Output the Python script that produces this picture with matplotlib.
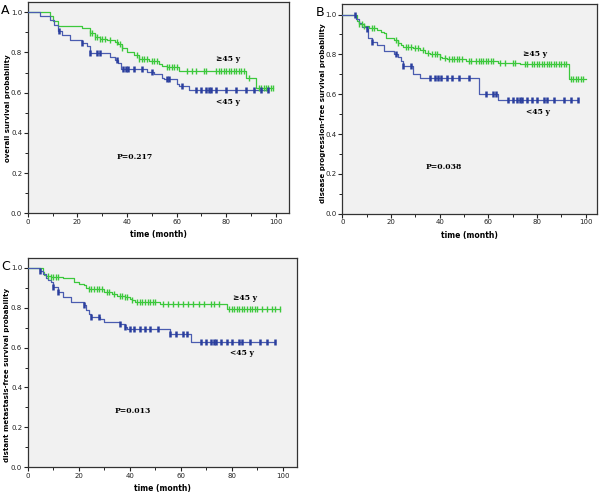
import numpy as np
import matplotlib
matplotlib.use("Agg")
import matplotlib.pyplot as plt
from matplotlib.ticker import MultipleLocator

# ---------------- data ----------------
# Panel A: overall survival
a_old_t = [0, 9, 10.3, 12, 22, 25, 27, 29, 32, 35, 36.5, 38, 40, 43, 45, 49, 53, 54, 56, 61, 88, 92]
a_old_s = [1.0, 0.98, 0.955, 0.934, 0.92, 0.898, 0.876, 0.868, 0.86, 0.85, 0.84, 0.82, 0.80, 0.785, 0.769, 0.757, 0.744, 0.735, 0.727, 0.708, 0.673, 0.622]
a_old_c = [25, 26, 27, 28, 29, 30, 31, 33, 36, 37, 38, 44, 45, 46, 47, 48, 50, 51, 52, 56, 57, 58, 59, 60,
           64, 66, 68, 71, 72, 76, 77, 78, 79, 80, 81, 82, 83, 84, 85, 86, 87, 89, 93, 94, 95, 96, 97, 98, 99]
a_yng_t = [0, 5, 9, 10.5, 12, 14, 17, 22, 24, 25, 33, 35, 36.5, 37.5, 48, 51, 54, 55, 60, 61, 65]
a_yng_s = [1.0, 0.98, 0.96, 0.935, 0.909, 0.885, 0.862, 0.845, 0.83, 0.797, 0.777, 0.765, 0.75, 0.72, 0.702, 0.691, 0.674, 0.666, 0.645, 0.632, 0.612]
a_yng_c = [12.5, 22, 25, 28, 29, 36, 38.5, 39.5, 40.5, 43, 46, 50, 56, 57, 62, 68, 70, 72, 73, 74, 76, 80, 84, 88, 91, 94, 97]

# Panel B: disease progression-free survival
b_old_t = [0, 6, 7, 9, 11, 14, 16, 17, 18, 21, 23, 24, 25, 29, 32, 34, 36, 40, 41, 43, 51, 64, 73, 93]
b_old_s = [1.0, 0.967, 0.955, 0.945, 0.933, 0.922, 0.912, 0.905, 0.883, 0.872, 0.858, 0.845, 0.838, 0.83, 0.822, 0.808, 0.80, 0.788, 0.78, 0.775, 0.767, 0.755, 0.75, 0.678]
b_old_c = [7, 8, 9, 12, 13, 22, 23, 26, 27, 28, 30, 31, 33, 35, 37, 38, 39, 40, 42, 44, 45, 46, 47, 48, 49,
           52, 53, 55, 56, 57, 58, 59, 60, 61, 62, 65, 67, 70, 71, 75, 76, 78, 79, 80, 81, 82, 83, 84, 85, 86,
           87, 88, 89, 90, 91, 92, 94, 95, 96, 97, 98, 99]
b_yng_t = [0, 5.5, 7, 8, 10, 10.5, 12, 14, 17, 21, 23, 24, 25, 29, 32, 56, 64]
b_yng_s = [1.0, 0.98, 0.96, 0.94, 0.925, 0.88, 0.862, 0.845, 0.817, 0.80, 0.785, 0.767, 0.742, 0.70, 0.68, 0.60, 0.572]
b_yng_c = [5, 10, 12, 22, 25, 28, 36, 38, 39.5, 40.5, 43, 45, 48, 52, 59, 62, 63, 68, 70, 72, 73, 74, 76, 78, 80, 83, 84, 87, 91, 94, 97]

# Panel C: distant metastasis-free survival
c_old_t = [0, 6, 6.5, 7, 9, 14, 18, 20, 22, 23, 24, 30, 33, 35, 38, 40, 41, 42, 52, 78]
c_old_s = [1.0, 0.98, 0.963, 0.958, 0.955, 0.947, 0.93, 0.92, 0.913, 0.90, 0.892, 0.88, 0.87, 0.86, 0.852, 0.843, 0.836, 0.83, 0.818, 0.793]
c_old_c = [8, 9, 10, 11, 12, 24, 25, 26, 27, 28, 29, 31, 32, 34, 36, 37, 38, 39, 41, 43, 44, 45, 46, 47, 48, 49, 50,
           53, 55, 57, 59, 61, 63, 65, 67, 69, 72, 73, 75, 79, 80, 81, 82, 83, 84, 85, 86, 87, 88, 89, 90, 92, 94, 96, 97, 99]
c_yng_t = [0, 5, 6, 7, 8, 9, 10, 12, 14, 17, 22, 23, 24, 25, 28.5, 30, 36, 38, 39, 56, 64]
c_yng_s = [1.0, 0.985, 0.97, 0.95, 0.94, 0.93, 0.905, 0.88, 0.855, 0.827, 0.813, 0.788, 0.77, 0.755, 0.743, 0.73, 0.717, 0.705, 0.693, 0.667, 0.63]
c_yng_c = [5, 10, 12, 22, 25, 28, 36, 38, 40, 41.5, 44, 46, 48, 51, 56, 58, 61, 62.5, 68, 70, 72, 73, 74, 76, 78, 80, 83, 84, 87, 91, 94, 97]

panels = [
    dict(letter="A", ylabel="overall survival probability", p="P=0.217",
         old=(a_old_t, a_old_s, a_old_c, 99), yng=(a_yng_t, a_yng_s, a_yng_c, 97),
         pos=(0.0462, 0.5682, 0.436, 0.4277), xmax=105.4, ymax=1.051,
         old_lab=(76, 0.768), yng_lab=(76, 0.555), p_pos=(36, 0.282), ylab_y=0.5),
    dict(letter="B", ylabel="disease progression-free survival probability", p="P=0.038",
         old=(b_old_t, b_old_s, b_old_c, 100), yng=(b_yng_t, b_yng_s, b_yng_c, 97),
         pos=(0.5708, 0.5674, 0.4237, 0.4245), xmax=104.6, ymax=1.053,
         old_lab=(74.3, 0.803), yng_lab=(75.5, 0.511), p_pos=(34, 0.236), ylab_y=0.48),
    dict(letter="C", ylabel="distant metastasis-free survival probability", p="P=0.013",
         old=(c_old_t, c_old_s, c_old_c, 99), yng=(c_yng_t, c_yng_s, c_yng_c, 97),
         pos=(0.0462, 0.054, 0.4483, 0.4243), xmax=105.5, ymax=1.05,
         old_lab=(80.5, 0.848), yng_lab=(79.4, 0.575), p_pos=(34.2, 0.283), ylab_y=0.44),
]

green = "#3cc83c"
blue_line = "#4a5cb0"
blue_mark = "#2b3f9e"

fig = plt.figure(figsize=(6.0, 4.94), dpi=100)


def step_value(t, s, x):
    idx = np.searchsorted(np.asarray(t), x, side="right") - 1
    return np.asarray(s)[idx]


for pn in panels:
    ax = fig.add_axes(pn["pos"])
    ax.set_facecolor("#f1f1f1")
    for key, col, mcol, mew in (("old", green, green, 1.0), ("yng", blue_line, blue_mark, 1.8)):
        t, s, c, tend = pn[key]
        tt = list(t) + [tend]
        ss = list(s) + [s[-1]]
        ax.step(tt, ss, where="post", color=col, lw=0.9, zorder=3)
        cy = step_value(t, s, np.asarray(c))
        ax.plot(c, cy, ls="none", marker="|", ms=4.5, mew=mew, color=mcol, zorder=4)
    ax.set_xlim(0, pn["xmax"])
    ax.set_ylim(0, pn["ymax"])
    ax.xaxis.set_major_locator(MultipleLocator(20))
    ax.xaxis.set_minor_locator(MultipleLocator(10))
    ax.yaxis.set_major_locator(MultipleLocator(0.2))
    ax.yaxis.set_minor_locator(MultipleLocator(0.1))
    ax.yaxis.set_major_formatter(matplotlib.ticker.FormatStrFormatter("%.1f"))
    ax.tick_params(axis="both", which="major", direction="out", length=3, width=0.8,
                   labelsize=5, pad=1, colors="#222222")
    ax.tick_params(axis="both", which="minor", direction="out", length=2, width=0.6)
    for sp in ax.spines.values():
        sp.set_color("#333333")
        sp.set_linewidth(0.9)
    ax.set_ylabel(pn["ylabel"], fontsize=5.0, fontweight="bold")
    ax.yaxis.set_label_coords(-0.065, pn["ylab_y"])
    ax.set_xlabel("time (month)", fontsize=5.5, fontweight="bold", labelpad=4)
    ax.text(*pn["old_lab"], "≥45 y", fontsize=5.5, fontweight="bold", family="DejaVu Serif", va="center")
    ax.text(*pn["yng_lab"], "<45 y", fontsize=5.5, fontweight="bold", family="DejaVu Serif", va="center")
    ax.text(*pn["p_pos"], pn["p"], fontsize=5.5, fontweight="bold", family="DejaVu Serif", va="center")
    # panel letter
    fx = pn["pos"][0] - 0.044
    fy = pn["pos"][1] + pn["pos"][3] - 0.005
    fig.text(fx, fy, pn["letter"], fontsize=9, va="top", ha="left")

fig.savefig("out.png", dpi=100)
